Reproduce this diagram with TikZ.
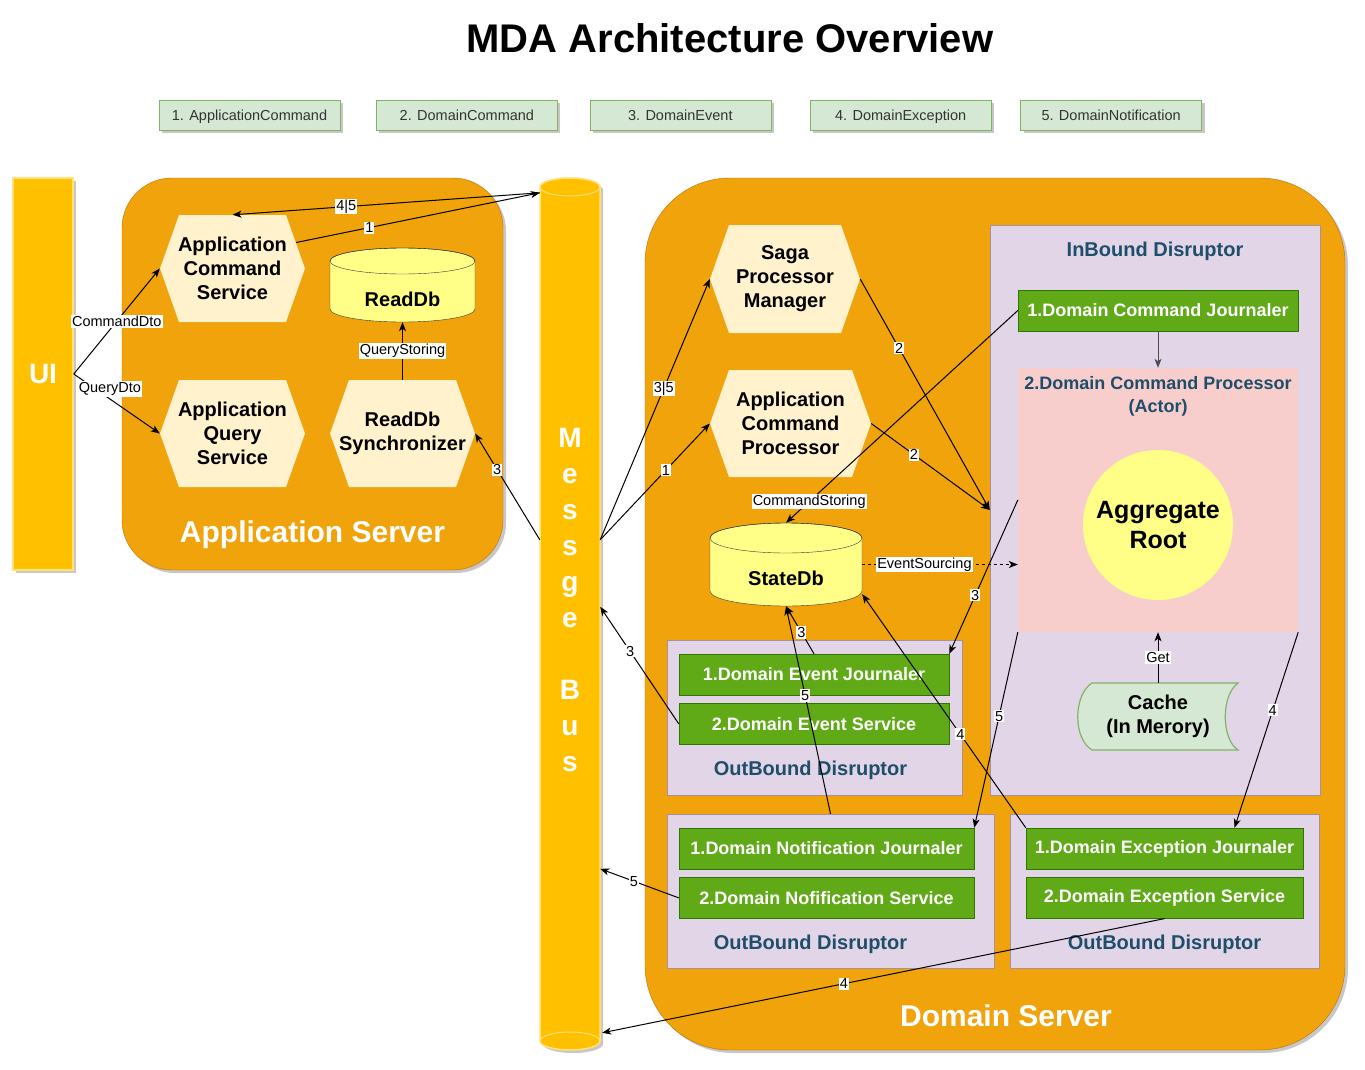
\documentclass[tikz,border=0pt]{standalone}
\usepackage{fontspec}
\setmainfont{Liberation Sans}
\usetikzlibrary{arrows.meta,positioning,calc,shadows}
\definecolor{amber}{HTML}{F0A30A}
\definecolor{amberline}{HTML}{BD7000}
\definecolor{gold}{HTML}{FFC000}
\definecolor{goldline}{HTML}{FFE07A}
\definecolor{cream}{HTML}{FFF2CC}
\definecolor{dbyellow}{HTML}{FFFF88}
\definecolor{dbline}{HTML}{36393D}
\definecolor{lilac}{HTML}{E1D5E7}
\definecolor{lilacline}{HTML}{A88FA0}
\definecolor{rose}{HTML}{F8CECC}
\definecolor{leaf}{HTML}{60A917}
\definecolor{leafline}{HTML}{2D7600}
\definecolor{mint}{HTML}{D5E8D4}
\definecolor{mintline}{HTML}{82B366}
\definecolor{slate}{HTML}{1F4E6B}
\definecolor{textgrey}{HTML}{333333}
\tikzset{dropsh/.style={drop shadow={shadow xshift=3pt,shadow yshift=-3pt,fill=black,opacity=0.22}},
  server/.style={draw=amberline,fill=amber,rounded corners=#1,inner sep=0pt,dropsh},
  srvname/.style={text=white,font=\fontsize{30}{36}\selectfont\bfseries},
  busfill/.style={draw=goldline,line width=1.5pt,fill=gold,dropsh},
  legbox/.style={draw=mintline,fill=mint,minimum width=181pt,minimum height=30pt,inner sep=0pt,
    text height=14pt,text depth=2pt,text=textgrey,font=\fontsize{14.5}{17}\selectfont,dropsh},
  hexa/.style={align=center,inner sep=0pt,font=\fontsize{20}{24}\selectfont\bfseries,
    path picture={\fill[cream] ([xshift=19pt]path picture bounding box.north west)
      -- ([xshift=-19pt]path picture bounding box.north east) -- (path picture bounding box.east)
      -- ([xshift=-19pt]path picture bounding box.south east)
      -- ([xshift=19pt]path picture bounding box.south west) -- (path picture bounding box.west) -- cycle;}},
  dbbody/.style={draw=dbline,fill=dbyellow},
  db/.style={inner sep=0pt,text height=46pt,text depth=4pt,font=\fontsize{20}{24}\selectfont\bfseries},
  disr/.style={draw=lilacline,fill=lilac,inner sep=0pt},
  disrname/.style={text=slate,align=center,font=\fontsize{20}{24}\selectfont\bfseries},
  jbox/.style={draw=leafline,fill=leaf,text=white,inner sep=0pt,minimum height=41pt,
    font=\fontsize{18}{22}\selectfont\bfseries},
  arrow/.style={-{Stealth[length=9pt,width=7pt,inset=2.5pt]},line width=1pt},
  lbl/.style={fill=white,inner sep=1pt,text=black,font=\fontsize{14.5}{17}\selectfont}}
\begin{document}
\begin{tikzpicture}[x=1pt,y=-1pt]
\useasboundingbox (0,0) rectangle (1365,1070);
% title and legend
\node[font=\fontsize{40}{48}\selectfont\bfseries] (title) at (730,38) {MDA Architecture Overview};
\node[legbox] (leg1) at (249.5,115) {1. ApplicationCommand};
\node[legbox,right=36pt of leg1] (leg2) {2. DomainCommand};
\node[legbox,right=32pt of leg2] (leg3) {3. DomainEvent};
\node[legbox,right=39pt of leg3] (leg4) {4. DomainException};
\node[legbox,right=29pt of leg4] (leg5) {5. DomainNotification};
% ui and application server
\node[busfill,minimum width=60pt,minimum height=392pt,text=white,font=\fontsize{28}{34}\selectfont\bfseries] (ui) at (43,374) {UI};
\node[server=50pt,minimum width=381pt,minimum height=392pt] (appsrv) at (312.5,374) {};
\node[srvname] (appsrvname) at ($(appsrv.south)+(0,-35)$) {Application Server};
\node[hexa,minimum width=145pt,minimum height=107pt] (acs) at (232.5,268.5) {Application\\Command\\Service};
\node[hexa,minimum width=145pt,minimum height=107pt] (aqs) at (232.5,433.5) {Application\\Query\\Service};
\node[hexa,minimum width=145pt,minimum height=107pt] (rsync) at (402.5,433.5) {ReadDb\\Synchronizer};
\filldraw[dbbody] (330,261) -- (330,309) arc[start angle=180,end angle=0,x radius=72.5,y radius=13]
  -- (475,261) arc[start angle=0,end angle=-180,x radius=72.5,y radius=13] -- cycle;
\draw[dbline] (402.5,261) ellipse[x radius=72.5,y radius=13];
\node[db,minimum width=145pt,minimum height=74pt] (rdb) at (402.5,285) {ReadDb};
% message bus
\filldraw[busfill] (540,187) -- (540,1041) arc[start angle=180,end angle=0,x radius=30,y radius=9]
  -- (600,187) arc[start angle=0,end angle=-180,x radius=30,y radius=9] -- cycle;
\draw[goldline,line width=1pt] (570,187) ellipse[x radius=30,y radius=9];
\draw[goldline,line width=1pt] (540,1041) arc[start angle=180,end angle=360,x radius=30,y radius=9];
\node[align=center,inner sep=0pt,minimum width=60pt,minimum height=844pt,text=white,
  font=\fontsize{28}{36}\selectfont\bfseries] (bus) at (570,600) {M\\e\\s\\s\\g\\e\\[36pt]B\\u\\s};
% domain server
\node[server=85pt,minimum width=700pt,minimum height=872pt] (domsrv) at (995,614) {};
\node[srvname] (domsrvname) at ($(domsrv.south)+(11,-34)$) {Domain Server};
\node[hexa,minimum width=150pt,minimum height=108pt] (saga) at (785,279) {Saga\\Processor\\Manager};
\node[hexa,minimum width=161pt,minimum height=107pt] (acp) at (790.5,423.5) {Application\\Command\\Processor};
\filldraw[dbbody] (710,538) -- (710,591) arc[start angle=180,end angle=0,x radius=76,y radius=15]
  -- (862,538) arc[start angle=0,end angle=-180,x radius=76,y radius=15] -- cycle;
\draw[dbline] (786,538) ellipse[x radius=76,y radius=15];
\node[db,minimum width=152pt,minimum height=83pt] (sdb) at (786,564.5) {StateDb};
% inbound disruptor
\node[disr,minimum width=330pt,minimum height=570pt] (inbound) at (1155,510) {};
\node[disrname] (inboundname) at ($(inbound.north)+(0,27)$) {InBound Disruptor};
\node[jbox,minimum width=280pt] (dcj) at (1158,310.5) {1.Domain Command Journaler};
\node[fill=rose,inner sep=0pt,minimum width=280pt,minimum height=264pt] (proc) at (1158,500) {};
\node[disrname,font=\fontsize{18}{23}\selectfont\bfseries] (procname) at ($(proc.north)+(0,29)$) {2.Domain Command Processor\\(Actor)};
\node[circle,fill=dbyellow,minimum size=150pt,inner sep=0pt,align=center,
  font=\fontsize{25}{30}\selectfont\bfseries] (agg) at (1158,525) {Aggregate\\Root};
\filldraw[draw=mintline,fill=mint,line width=1.2pt] (1092,683) -- (1238,683)
  .. controls (1221,695) and (1221,739) .. (1238,750) -- (1092,750)
  .. controls (1073,739) and (1073,695) .. (1092,683) -- cycle;
\node[align=center,inner sep=0pt,minimum width=160pt,minimum height=67pt,
  font=\fontsize{20}{24}\selectfont\bfseries] (cache) at (1158,716.5) {Cache\\(In Merory)};
% outbound disruptors
\node[disr,minimum width=295pt,minimum height=155pt] (obevt) at (814.5,717.5) {};
\node[jbox,minimum width=270pt] (dej) at (814,674.5) {1.Domain Event Journaler};
\node[jbox,minimum width=270pt,below=8pt of dej] (des) {2.Domain Event Service};
\node[disrname] (obevtname) at ($(obevt.south)+(-4,-25)$) {OutBound Disruptor};
\node[disr,minimum width=327pt,minimum height=154pt] (obnot) at (830.5,891) {};
\node[jbox,minimum width=295pt] (dnj) at (826.5,848.5) {1.Domain Notification Journaler};
\node[jbox,minimum width=295pt,below=8pt of dnj] (dns) {2.Domain Nofification Service};
\node[disrname] (obnotname) at ($(obnot.south)+(-20,-24)$) {OutBound Disruptor};
\node[disr,minimum width=309pt,minimum height=154pt] (obexc) at (1164.5,891) {};
\node[jbox,minimum width=277pt] (dexj) at (1164.5,848.5) {1.Domain Exception Journaler};
\node[jbox,minimum width=277pt,below=8pt of dexj] (dexs) {2.Domain Exception Service};
\node[disrname] (obexcname) at ($(obexc.south)+(0,-24)$) {OutBound Disruptor};
% connectors
\draw[arrow] (ui.east) -- node[lbl]{CommandDto} (acs.west);
\draw[arrow] (ui.east) -- node[lbl,pos=0.42,yshift=10pt]{QueryDto} (aqs.west);
\draw[arrow] ($(bus.north west)+(0,15)$) -- node[lbl,pos=0.63]{4|5} (acs.north);
\draw[arrow] ($(acs.east)+(-9,-26)$) -- node[lbl,pos=0.3]{1} ($(bus.north west)+(0,15)$);
\draw[arrow] ($(bus.north west)+(0,362)$) -- node[lbl,pos=0.66]{3} (rsync.east);
\draw[arrow] (rsync.north) -- node[lbl]{QueryStoring} (rdb.south);
\draw[arrow] ($(bus.north east)+(0,362)$) -- node[lbl,pos=0.58]{3|5} (saga.west);
\draw[arrow] ($(bus.north east)+(0,362)$) -- node[lbl,pos=0.6]{1} (acp.west);
\draw[arrow] (saga.east) -- node[lbl,pos=0.3]{2} (inbound.west);
\draw[arrow] (acp.east) -- node[lbl,pos=0.36]{2} (inbound.west);
\draw[arrow] (dcj.west) -- node[lbl,pos=0.9]{CommandStoring} (sdb.north);
\draw[arrow,dash pattern=on 3pt off 3pt] (sdb.east) -- node[lbl,pos=0.4]{EventSourcing} (sdb.east -| proc.west);
\draw[arrow] (proc.west) -- node[lbl,pos=0.62]{3} (dej.north east);
\draw[arrow] (dej.north) -- node[lbl,pos=0.45]{3} (sdb.south);
\draw[arrow] (obnot.north) -- node[lbl,pos=0.57]{5} (sdb.south);
\draw[arrow] (dexj.north west) -- node[lbl,pos=0.4]{4} ($(sdb.south east)+(0,-12)$);
\draw[arrow] (proc.south west) -- node[lbl,pos=0.43]{5} (dnj.north east);
\draw[arrow] (proc.south east) -- node[lbl,pos=0.4]{4} ($(dexj.north)+(70,0)$);
\draw[arrow] (des.west) -- node[lbl,pos=0.62]{3} ($(bus.north east)+(0,429)$);
\draw[arrow] (dns.west) -- node[lbl,pos=0.57]{5} ($(bus.north east)+(0,691)$);
\draw[arrow] (dexs.south) -- node[lbl,pos=0.57]{4} ($(bus.north east)+(2,855)$);
\draw[arrow,draw=black!70] (dcj.south) -- (proc.north);
\draw[arrow] (cache.north) -- node[lbl]{Get} (proc.south);
\end{tikzpicture}
\end{document}
